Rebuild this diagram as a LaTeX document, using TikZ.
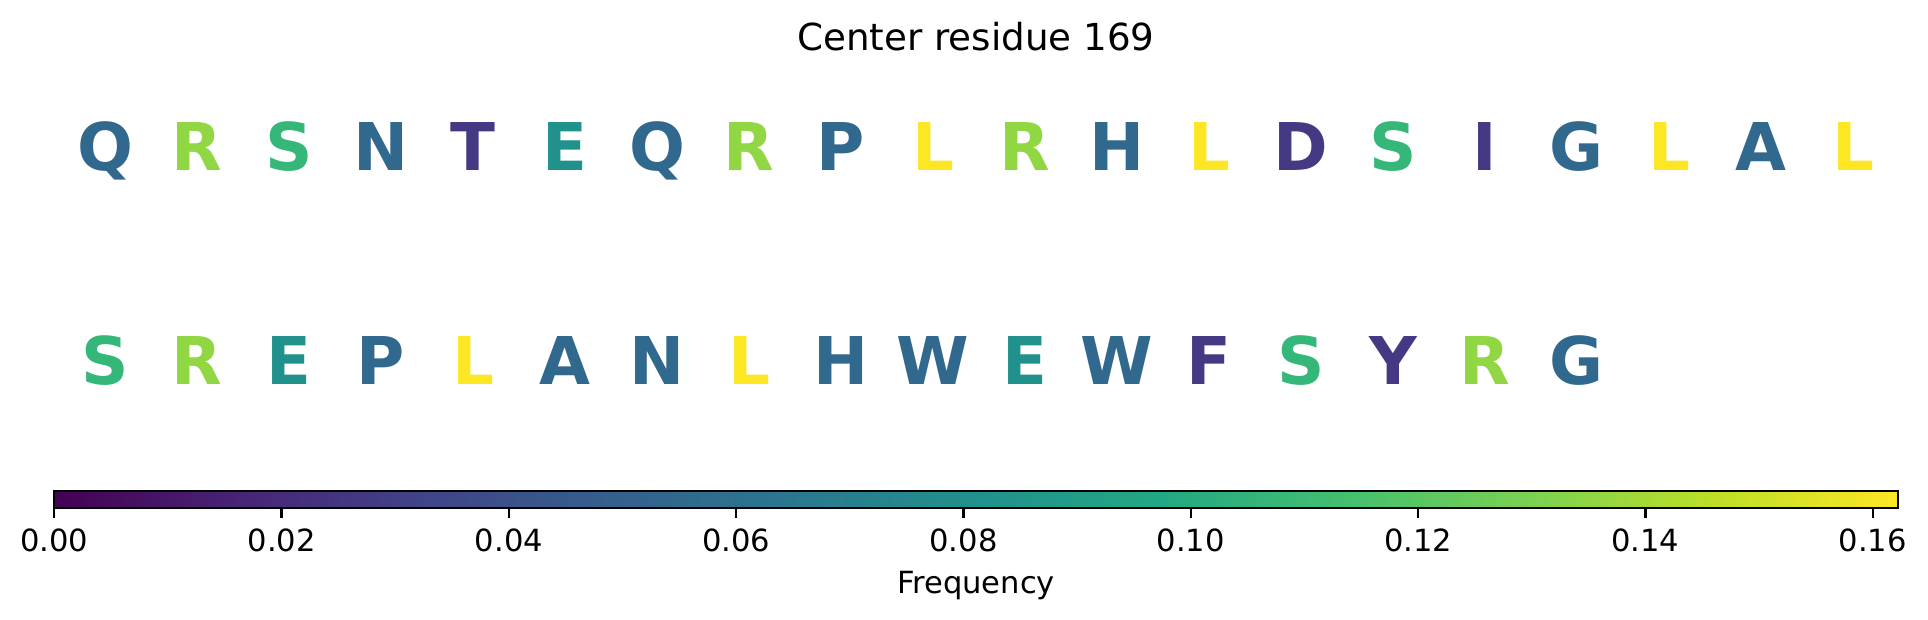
\documentclass[tikz,border=0pt]{standalone}
\usepackage{fontspec}
\setmainfont{DejaVu Sans}

%Colori delle lettere (frequenza = conteggio/37)
\definecolor{contaUno}{RGB}{68,57,131}
\definecolor{contaDue}{RGB}{49,104,142}
\definecolor{contaTre}{RGB}{33,145,140}
\definecolor{contaQuattro}{RGB}{53,183,121}
\definecolor{contaCinque}{RGB}{144,215,67}
\definecolor{contaSei}{RGB}{253,231,37}

%Colori della barra
\definecolor{vir0}{RGB}{68,1,84}
\definecolor{vir1}{RGB}{72,36,117}
\definecolor{vir2}{RGB}{65,68,135}
\definecolor{vir3}{RGB}{53,95,141}
\definecolor{vir4}{RGB}{42,120,142}
\definecolor{vir5}{RGB}{33,145,140}
\definecolor{vir6}{RGB}{34,168,132}
\definecolor{vir7}{RGB}{68,191,112}
\definecolor{vir8}{RGB}{122,209,81}
\definecolor{vir9}{RGB}{189,223,38}
\definecolor{vir10}{RGB}{253,231,37}
\pgfdeclarehorizontalshading{viridis}{100bp}{color(0bp)=(vir0); color(25bp)=(vir0); color(30bp)=(vir1); color(35bp)=(vir2); color(40bp)=(vir3); color(45bp)=(vir4); color(50bp)=(vir5); color(55bp)=(vir6); color(60bp)=(vir7); color(65bp)=(vir8); color(70bp)=(vir9); color(75bp)=(vir10); color(100bp)=(vir10)}

\begin{document}
\begin{tikzpicture}[x=0.36pt, y=-0.36pt,
		residuo/.style={anchor=base, inner sep=0pt, font=\fontsize{23.7}{28}\selectfont\bfseries},
		etichetta/.style={anchor=base, inner sep=0pt, font=\fontsize{11}{13}\selectfont}]
		
		\useasboundingbox (0,0) rectangle (1928,619);
		
		%Disegno il titolo
		\node (titolo) at (976,50) [anchor=base, inner sep=0pt, font=\fontsize{13.4}{16}\selectfont]{Center residue 169};
		
		%Disegno la prima riga
		\node (rigaUno1) at (105,170) [residuo, text=contaDue]{Q};
		\node (rigaUno2) at (197,170) [residuo, text=contaCinque]{R};
		\node (rigaUno3) at (289,170) [residuo, text=contaQuattro]{S};
		\node (rigaUno4) at (381,170) [residuo, text=contaDue]{N};
		\node (rigaUno5) at (473,170) [residuo, text=contaUno]{T};
		\node (rigaUno6) at (565,170) [residuo, text=contaTre]{E};
		\node (rigaUno7) at (657,170) [residuo, text=contaDue]{Q};
		\node (rigaUno8) at (749,170) [residuo, text=contaCinque]{R};
		\node (rigaUno9) at (841,170) [residuo, text=contaDue]{P};
		\node (rigaUno10) at (933,170) [residuo, text=contaSei]{L};
		\node (rigaUno11) at (1025,170) [residuo, text=contaCinque]{R};
		\node (rigaUno12) at (1117,170) [residuo, text=contaDue]{H};
		\node (rigaUno13) at (1209,170) [residuo, text=contaSei]{L};
		\node (rigaUno14) at (1301,170) [residuo, text=contaUno]{D};
		\node (rigaUno15) at (1393,170) [residuo, text=contaQuattro]{S};
		\node (rigaUno16) at (1485,170) [residuo, text=contaUno]{I};
		\node (rigaUno17) at (1577,170) [residuo, text=contaDue]{G};
		\node (rigaUno18) at (1669,170) [residuo, text=contaSei]{L};
		\node (rigaUno19) at (1761,170) [residuo, text=contaDue]{A};
		\node (rigaUno20) at (1853,170) [residuo, text=contaSei]{L};
		
		%Disegno la seconda riga
		\node (rigaDue1) at (105,384) [residuo, text=contaQuattro]{S};
		\node (rigaDue2) at (197,384) [residuo, text=contaCinque]{R};
		\node (rigaDue3) at (289,384) [residuo, text=contaTre]{E};
		\node (rigaDue4) at (381,384) [residuo, text=contaDue]{P};
		\node (rigaDue5) at (473,384) [residuo, text=contaSei]{L};
		\node (rigaDue6) at (565,384) [residuo, text=contaDue]{A};
		\node (rigaDue7) at (657,384) [residuo, text=contaDue]{N};
		\node (rigaDue8) at (749,384) [residuo, text=contaSei]{L};
		\node (rigaDue9) at (841,384) [residuo, text=contaDue]{H};
		\node (rigaDue10) at (933,384) [residuo, text=contaDue]{W};
		\node (rigaDue11) at (1025,384) [residuo, text=contaTre]{E};
		\node (rigaDue12) at (1117,384) [residuo, text=contaDue]{W};
		\node (rigaDue13) at (1209,384) [residuo, text=contaUno]{F};
		\node (rigaDue14) at (1301,384) [residuo, text=contaQuattro]{S};
		\node (rigaDue15) at (1393,384) [residuo, text=contaUno]{Y};
		\node (rigaDue16) at (1485,384) [residuo, text=contaCinque]{R};
		\node (rigaDue17) at (1577,384) [residuo, text=contaDue]{G};
		
		%Disegno la barra dei colori
		\shade[shading=viridis] (54.3,490.7) rectangle (1898,507.7);
		\draw[line width=0.85pt] (54.3,490.7) rectangle (1898,507.7);
		
		%Disegno le tacche
		\draw[line width=0.85pt] (54.3,507.7) -- (54.3,517.7);
		\draw[line width=0.85pt] (281.6,507.7) -- (281.6,517.7);
		\draw[line width=0.85pt] (508.9,507.7) -- (508.9,517.7);
		\draw[line width=0.85pt] (736.2,507.7) -- (736.2,517.7);
		\draw[line width=0.85pt] (963.5,507.7) -- (963.5,517.7);
		\draw[line width=0.85pt] (1190.8,507.7) -- (1190.8,517.7);
		\draw[line width=0.85pt] (1418.1,507.7) -- (1418.1,517.7);
		\draw[line width=0.85pt] (1645.4,507.7) -- (1645.4,517.7);
		\draw[line width=0.85pt] (1872.7,507.7) -- (1872.7,517.7);
		
		%Disegno le etichette
		\node (tacca0) at (54.3,551.7) [etichetta]{0.00};
		\node (tacca1) at (281.6,551.7) [etichetta]{0.02};
		\node (tacca2) at (508.9,551.7) [etichetta]{0.04};
		\node (tacca3) at (736.2,551.7) [etichetta]{0.06};
		\node (tacca4) at (963.5,551.7) [etichetta]{0.08};
		\node (tacca5) at (1190.8,551.7) [etichetta]{0.10};
		\node (tacca6) at (1418.1,551.7) [etichetta]{0.12};
		\node (tacca7) at (1645.4,551.7) [etichetta]{0.14};
		\node (tacca8) at (1872.7,551.7) [etichetta]{0.16};
		
		\node (frequenza) at (976,593.3) [etichetta]{Frequency};
		
		\end{tikzpicture}
\end{document}
